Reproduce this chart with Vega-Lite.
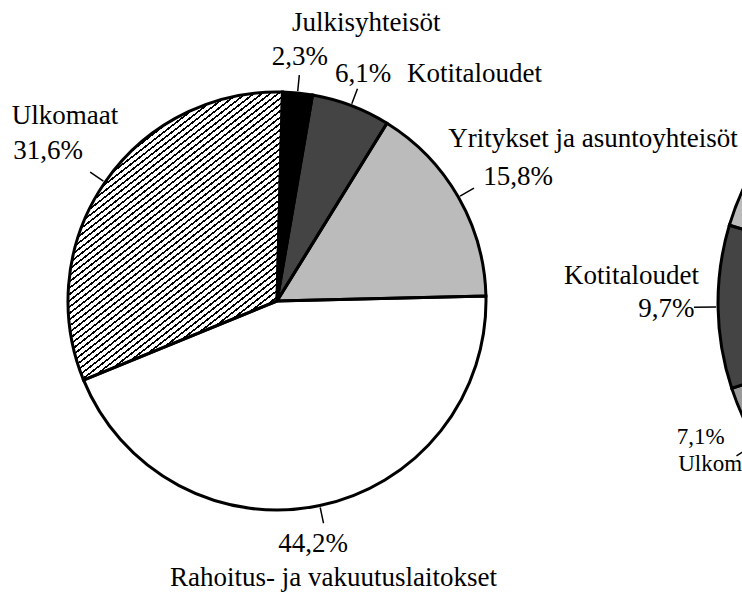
{
"$schema":"https://vega.github.io/schema/vega-lite/v6.json",
"width":742,"height":595,"autosize":{"type":"none"},"padding":0,"background":"white",
"config":{"view":{"stroke":null},"text":{"font":"Liberation Serif","fontSize":27,"color":"#000"}},
"datasets":{
"p1":[
{"pie":"A","ord":1,"label":"Julkisyhteisöt","value":2.3,"pct":"2,3%"},
{"pie":"A","ord":2,"label":"Kotitaloudet","value":6.1,"pct":"6,1%"},
{"pie":"A","ord":3,"label":"Yritykset ja asuntoyhteisöt","value":15.8,"pct":"15,8%"},
{"pie":"A","ord":4,"label":"Rahoitus- ja vakuutuslaitokset","value":44.2,"pct":"44,2%"},
{"pie":"A","ord":5,"label":"Ulkomaat","value":31.6,"pct":"31,6%"}],
"p2":[
{"pie":"B","ord":1,"label":"Julkisyhteisöt","value":7.8,"pct":""},
{"pie":"B","ord":2,"label":"Rahoitus- ja vakuutuslaitokset","value":54.6,"pct":""},
{"pie":"B","ord":3,"label":"Ulkomaat","value":7.1,"pct":"7,1%"},
{"pie":"B","ord":4,"label":"Kotitaloudet","value":9.7,"pct":"9,7%"},
{"pie":"B","ord":5,"label":"Yritykset ja asuntoyhteisöt","value":20.8,"pct":""}]
},
"encoding":{
"x":{"field":"pie","type":"nominal","scale":{"type":"point","domain":["A","B"],"range":[277,990],"padding":0},"axis":null},
"y":{"field":"pie","type":"nominal","scale":{"type":"point","domain":["A","B"],"range":[301,303],"padding":0},"axis":null},
"theta":{"field":"value","type":"quantitative","stack":true,"scale":{"domain":[0,100],"range":[0.0262,6.3094]}},
"order":{"field":"ord","type":"quantitative"}
},
"layer":[
{"data":{"name":"p1"},"mark":{"type":"arc","outerRadius":209},
 "encoding":{"fill":{"field":"label","type":"nominal","legend":null,"scale":{"domain":["Julkisyhteisöt","Kotitaloudet","Yritykset ja asuntoyhteisöt","Rahoitus- ja vakuutuslaitokset","Ulkomaat"],"range":["#000000","#444444","#bbbbbb","#ffffff","#9a9a9a"]}}}},
{"data":{"name":"p1"},"mark":{"type":"arc","outerRadius":209,"fill":{"gradient":"linear","x1":0,"y1":0,"x2":0.6863,"y2":1.1821,"stops":[
{"offset":0,"color":"#000"},{"offset":0.0046,"color":"#000"},{"offset":0.0046,"color":"#fff"},{"offset":0.0139,"color":"#fff"},
{"offset":0.0139,"color":"#000"},{"offset":0.0185,"color":"#000"},{"offset":0.0185,"color":"#fff"},{"offset":0.0278,"color":"#fff"},
{"offset":0.0278,"color":"#000"},{"offset":0.0324,"color":"#000"},{"offset":0.0324,"color":"#fff"},{"offset":0.0417,"color":"#fff"},
{"offset":0.0417,"color":"#000"},{"offset":0.0463,"color":"#000"},{"offset":0.0463,"color":"#fff"},{"offset":0.0556,"color":"#fff"},
{"offset":0.0556,"color":"#000"},{"offset":0.0601,"color":"#000"},{"offset":0.0601,"color":"#fff"},{"offset":0.0694,"color":"#fff"},
{"offset":0.0694,"color":"#000"},{"offset":0.0740,"color":"#000"},{"offset":0.0740,"color":"#fff"},{"offset":0.0833,"color":"#fff"},
{"offset":0.0833,"color":"#000"},{"offset":0.0879,"color":"#000"},{"offset":0.0879,"color":"#fff"},{"offset":0.0972,"color":"#fff"},
{"offset":0.0972,"color":"#000"},{"offset":0.1018,"color":"#000"},{"offset":0.1018,"color":"#fff"},{"offset":0.1111,"color":"#fff"},
{"offset":0.1111,"color":"#000"},{"offset":0.1157,"color":"#000"},{"offset":0.1157,"color":"#fff"},{"offset":0.1250,"color":"#fff"},
{"offset":0.1250,"color":"#000"},{"offset":0.1296,"color":"#000"},{"offset":0.1296,"color":"#fff"},{"offset":0.1389,"color":"#fff"},
{"offset":0.1389,"color":"#000"},{"offset":0.1435,"color":"#000"},{"offset":0.1435,"color":"#fff"},{"offset":0.1528,"color":"#fff"},
{"offset":0.1528,"color":"#000"},{"offset":0.1574,"color":"#000"},{"offset":0.1574,"color":"#fff"},{"offset":0.1667,"color":"#fff"},
{"offset":0.1667,"color":"#000"},{"offset":0.1713,"color":"#000"},{"offset":0.1713,"color":"#fff"},{"offset":0.1806,"color":"#fff"},
{"offset":0.1806,"color":"#000"},{"offset":0.1852,"color":"#000"},{"offset":0.1852,"color":"#fff"},{"offset":0.1944,"color":"#fff"},
{"offset":0.1944,"color":"#000"},{"offset":0.1990,"color":"#000"},{"offset":0.1990,"color":"#fff"},{"offset":0.2083,"color":"#fff"},
{"offset":0.2083,"color":"#000"},{"offset":0.2129,"color":"#000"},{"offset":0.2129,"color":"#fff"},{"offset":0.2222,"color":"#fff"},
{"offset":0.2222,"color":"#000"},{"offset":0.2268,"color":"#000"},{"offset":0.2268,"color":"#fff"},{"offset":0.2361,"color":"#fff"},
{"offset":0.2361,"color":"#000"},{"offset":0.2407,"color":"#000"},{"offset":0.2407,"color":"#fff"},{"offset":0.2500,"color":"#fff"},
{"offset":0.2500,"color":"#000"},{"offset":0.2546,"color":"#000"},{"offset":0.2546,"color":"#fff"},{"offset":0.2639,"color":"#fff"},
{"offset":0.2639,"color":"#000"},{"offset":0.2685,"color":"#000"},{"offset":0.2685,"color":"#fff"},{"offset":0.2778,"color":"#fff"},
{"offset":0.2778,"color":"#000"},{"offset":0.2824,"color":"#000"},{"offset":0.2824,"color":"#fff"},{"offset":0.2917,"color":"#fff"},
{"offset":0.2917,"color":"#000"},{"offset":0.2963,"color":"#000"},{"offset":0.2963,"color":"#fff"},{"offset":0.3056,"color":"#fff"},
{"offset":0.3056,"color":"#000"},{"offset":0.3101,"color":"#000"},{"offset":0.3101,"color":"#fff"},{"offset":0.3194,"color":"#fff"},
{"offset":0.3194,"color":"#000"},{"offset":0.3240,"color":"#000"},{"offset":0.3240,"color":"#fff"},{"offset":0.3333,"color":"#fff"},
{"offset":0.3333,"color":"#000"},{"offset":0.3379,"color":"#000"},{"offset":0.3379,"color":"#fff"},{"offset":0.3472,"color":"#fff"},
{"offset":0.3472,"color":"#000"},{"offset":0.3518,"color":"#000"},{"offset":0.3518,"color":"#fff"},{"offset":0.3611,"color":"#fff"},
{"offset":0.3611,"color":"#000"},{"offset":0.3657,"color":"#000"},{"offset":0.3657,"color":"#fff"},{"offset":0.3750,"color":"#fff"},
{"offset":0.3750,"color":"#000"},{"offset":0.3796,"color":"#000"},{"offset":0.3796,"color":"#fff"},{"offset":0.3889,"color":"#fff"},
{"offset":0.3889,"color":"#000"},{"offset":0.3935,"color":"#000"},{"offset":0.3935,"color":"#fff"},{"offset":0.4028,"color":"#fff"},
{"offset":0.4028,"color":"#000"},{"offset":0.4074,"color":"#000"},{"offset":0.4074,"color":"#fff"},{"offset":0.4167,"color":"#fff"},
{"offset":0.4167,"color":"#000"},{"offset":0.4213,"color":"#000"},{"offset":0.4213,"color":"#fff"},{"offset":0.4306,"color":"#fff"},
{"offset":0.4306,"color":"#000"},{"offset":0.4352,"color":"#000"},{"offset":0.4352,"color":"#fff"},{"offset":0.4444,"color":"#fff"},
{"offset":0.4444,"color":"#000"},{"offset":0.4490,"color":"#000"},{"offset":0.4490,"color":"#fff"},{"offset":0.4583,"color":"#fff"},
{"offset":0.4583,"color":"#000"},{"offset":0.4629,"color":"#000"},{"offset":0.4629,"color":"#fff"},{"offset":0.4722,"color":"#fff"},
{"offset":0.4722,"color":"#000"},{"offset":0.4768,"color":"#000"},{"offset":0.4768,"color":"#fff"},{"offset":0.4861,"color":"#fff"},
{"offset":0.4861,"color":"#000"},{"offset":0.4907,"color":"#000"},{"offset":0.4907,"color":"#fff"},{"offset":0.5000,"color":"#fff"},
{"offset":0.5000,"color":"#000"},{"offset":0.5046,"color":"#000"},{"offset":0.5046,"color":"#fff"},{"offset":0.5139,"color":"#fff"},
{"offset":0.5139,"color":"#000"},{"offset":0.5185,"color":"#000"},{"offset":0.5185,"color":"#fff"},{"offset":0.5278,"color":"#fff"},
{"offset":0.5278,"color":"#000"},{"offset":0.5324,"color":"#000"},{"offset":0.5324,"color":"#fff"},{"offset":0.5417,"color":"#fff"},
{"offset":0.5417,"color":"#000"},{"offset":0.5463,"color":"#000"},{"offset":0.5463,"color":"#fff"},{"offset":0.5556,"color":"#fff"},
{"offset":0.5556,"color":"#000"},{"offset":0.5601,"color":"#000"},{"offset":0.5601,"color":"#fff"},{"offset":0.5694,"color":"#fff"},
{"offset":0.5694,"color":"#000"},{"offset":0.5740,"color":"#000"},{"offset":0.5740,"color":"#fff"},{"offset":0.5833,"color":"#fff"},
{"offset":0.5833,"color":"#000"},{"offset":0.5879,"color":"#000"},{"offset":0.5879,"color":"#fff"},{"offset":0.5972,"color":"#fff"},
{"offset":0.5972,"color":"#000"},{"offset":0.6018,"color":"#000"},{"offset":0.6018,"color":"#fff"},{"offset":0.6111,"color":"#fff"},
{"offset":0.6111,"color":"#000"},{"offset":0.6157,"color":"#000"},{"offset":0.6157,"color":"#fff"},{"offset":0.6250,"color":"#fff"},
{"offset":0.6250,"color":"#000"},{"offset":0.6296,"color":"#000"},{"offset":0.6296,"color":"#fff"},{"offset":0.6389,"color":"#fff"},
{"offset":0.6389,"color":"#000"},{"offset":0.6435,"color":"#000"},{"offset":0.6435,"color":"#fff"},{"offset":0.6528,"color":"#fff"},
{"offset":0.6528,"color":"#000"},{"offset":0.6574,"color":"#000"},{"offset":0.6574,"color":"#fff"},{"offset":0.6667,"color":"#fff"},
{"offset":0.6667,"color":"#000"},{"offset":0.6713,"color":"#000"},{"offset":0.6713,"color":"#fff"},{"offset":0.6806,"color":"#fff"},
{"offset":0.6806,"color":"#000"},{"offset":0.6852,"color":"#000"},{"offset":0.6852,"color":"#fff"},{"offset":0.6944,"color":"#fff"},
{"offset":0.6944,"color":"#000"},{"offset":0.6990,"color":"#000"},{"offset":0.6990,"color":"#fff"},{"offset":0.7083,"color":"#fff"},
{"offset":0.7083,"color":"#000"},{"offset":0.7129,"color":"#000"},{"offset":0.7129,"color":"#fff"},{"offset":0.7222,"color":"#fff"},
{"offset":0.7222,"color":"#000"},{"offset":0.7268,"color":"#000"},{"offset":0.7268,"color":"#fff"},{"offset":0.7361,"color":"#fff"},
{"offset":0.7361,"color":"#000"},{"offset":0.7407,"color":"#000"},{"offset":0.7407,"color":"#fff"},{"offset":0.7500,"color":"#fff"},
{"offset":0.7500,"color":"#000"},{"offset":0.7546,"color":"#000"},{"offset":0.7546,"color":"#fff"},{"offset":0.7639,"color":"#fff"},
{"offset":0.7639,"color":"#000"},{"offset":0.7685,"color":"#000"},{"offset":0.7685,"color":"#fff"},{"offset":0.7778,"color":"#fff"},
{"offset":0.7778,"color":"#000"},{"offset":0.7824,"color":"#000"},{"offset":0.7824,"color":"#fff"},{"offset":0.7917,"color":"#fff"},
{"offset":0.7917,"color":"#000"},{"offset":0.7963,"color":"#000"},{"offset":0.7963,"color":"#fff"},{"offset":0.8056,"color":"#fff"},
{"offset":0.8056,"color":"#000"},{"offset":0.8101,"color":"#000"},{"offset":0.8101,"color":"#fff"},{"offset":0.8194,"color":"#fff"},
{"offset":0.8194,"color":"#000"},{"offset":0.8240,"color":"#000"},{"offset":0.8240,"color":"#fff"},{"offset":0.8333,"color":"#fff"},
{"offset":0.8333,"color":"#000"},{"offset":0.8379,"color":"#000"},{"offset":0.8379,"color":"#fff"},{"offset":0.8472,"color":"#fff"},
{"offset":0.8472,"color":"#000"},{"offset":0.8518,"color":"#000"},{"offset":0.8518,"color":"#fff"},{"offset":0.8611,"color":"#fff"},
{"offset":0.8611,"color":"#000"},{"offset":0.8657,"color":"#000"},{"offset":0.8657,"color":"#fff"},{"offset":0.8750,"color":"#fff"},
{"offset":0.8750,"color":"#000"},{"offset":0.8796,"color":"#000"},{"offset":0.8796,"color":"#fff"},{"offset":0.8889,"color":"#fff"},
{"offset":0.8889,"color":"#000"},{"offset":0.8935,"color":"#000"},{"offset":0.8935,"color":"#fff"},{"offset":0.9028,"color":"#fff"},
{"offset":0.9028,"color":"#000"},{"offset":0.9074,"color":"#000"},{"offset":0.9074,"color":"#fff"},{"offset":0.9167,"color":"#fff"},
{"offset":0.9167,"color":"#000"},{"offset":0.9213,"color":"#000"},{"offset":0.9213,"color":"#fff"},{"offset":0.9306,"color":"#fff"},
{"offset":0.9306,"color":"#000"},{"offset":0.9352,"color":"#000"},{"offset":0.9352,"color":"#fff"},{"offset":0.9444,"color":"#fff"},
{"offset":0.9444,"color":"#000"},{"offset":0.9490,"color":"#000"},{"offset":0.9490,"color":"#fff"},{"offset":0.9583,"color":"#fff"},
{"offset":0.9583,"color":"#000"},{"offset":0.9629,"color":"#000"},{"offset":0.9629,"color":"#fff"},{"offset":0.9722,"color":"#fff"},
{"offset":0.9722,"color":"#000"},{"offset":0.9768,"color":"#000"},{"offset":0.9768,"color":"#fff"},{"offset":0.9861,"color":"#fff"},
{"offset":0.9861,"color":"#000"},{"offset":0.9907,"color":"#000"},{"offset":0.9907,"color":"#fff"},{"offset":1,"color":"#fff"}
]}},
 "encoding":{"fillOpacity":{"condition":{"test":"datum.label==='Ulkomaat'","value":1},"value":0}}},
{"data":{"name":"p1"},"mark":{"type":"arc","outerRadius":209,"fill":"#ffffff","fillOpacity":0,"stroke":"#000","strokeWidth":3}},
{"data":{"name":"p1"},"mark":{"type":"arc","outerRadius":227,"innerRadius":211,"padAngle":3,"fill":"#ffffff","fillOpacity":0,"stroke":"#000","strokeWidth":1.5}},
{"data":{"name":"p2"},"mark":{"type":"arc","outerRadius":272},
 "encoding":{"fill":{"field":"label","type":"nominal","legend":null,"scale":{"domain":["Julkisyhteisöt","Kotitaloudet","Yritykset ja asuntoyhteisöt","Rahoitus- ja vakuutuslaitokset","Ulkomaat"],"range":["#000000","#444444","#bbbbbb","#ffffff","#9a9a9a"]}}}},
{"data":{"name":"p2"},"mark":{"type":"arc","outerRadius":272,"fill":"#ffffff","fillOpacity":0,"stroke":"#000","strokeWidth":3}},
{"data":{"name":"p2"},"mark":{"type":"arc","outerRadius":296,"innerRadius":274,"padAngle":3,"fill":"#ffffff","fillOpacity":0,"stroke":"#000","strokeWidth":1.5}},
{"data":{"name":"p1"},"mark":{"type":"text","radius":245,"align":"left","baseline":"alphabetic","dx":-9.1,"dy":-25.7},"encoding":{"text":{"condition":{"test":"datum.label==='Julkisyhteisöt'","field":"label"},"value":""}}},
{"data":{"name":"p1"},"mark":{"type":"text","radius":245,"align":"left","baseline":"alphabetic","dx":-29.4,"dy":7.8},"encoding":{"text":{"condition":{"test":"datum.label==='Julkisyhteisöt'","field":"pct"},"value":""}}},
{"data":{"name":"p1"},"mark":{"type":"text","radius":245,"align":"left","baseline":"alphabetic","dx":-28.9,"dy":10.1},"encoding":{"text":{"condition":{"test":"datum.label==='Kotitaloudet'","field":"pct"},"value":""}}},
{"data":{"name":"p1"},"mark":{"type":"text","radius":245,"align":"left","baseline":"alphabetic","dx":43.1,"dy":10.1},"encoding":{"text":{"condition":{"test":"datum.label==='Kotitaloudet'","field":"label"},"value":""}}},
{"data":{"name":"p1"},"mark":{"type":"text","radius":245,"align":"left","baseline":"alphabetic","dx":-41.3,"dy":-32.5},"encoding":{"text":{"condition":{"test":"datum.label==='Yritykset ja asuntoyhteisöt'","field":"label"},"value":""}}},
{"data":{"name":"p1"},"mark":{"type":"text","radius":245,"align":"left","baseline":"alphabetic","dx":-6.3,"dy":5.8},"encoding":{"text":{"condition":{"test":"datum.label==='Yritykset ja asuntoyhteisöt'","field":"pct"},"value":""}}},
{"data":{"name":"p1"},"mark":{"type":"text","radius":245,"align":"left","baseline":"alphabetic","dx":-48.9,"dy":11.2},"encoding":{"text":{"condition":{"test":"datum.label==='Rahoitus- ja vakuutuslaitokset'","field":"pct"},"value":""}}},
{"data":{"name":"p1"},"mark":{"type":"text","radius":245,"align":"left","baseline":"alphabetic","dx":-157.2,"dy":44.9},"encoding":{"text":{"condition":{"test":"datum.label==='Rahoitus- ja vakuutuslaitokset'","field":"label"},"value":""}}},
{"data":{"name":"p1"},"mark":{"type":"text","radius":245,"align":"left","baseline":"alphabetic","dx":-63.7,"dy":-37.5},"encoding":{"text":{"condition":{"test":"datum.label==='Ulkomaat'","field":"label"},"value":""}}},
{"data":{"name":"p1"},"mark":{"type":"text","radius":245,"align":"left","baseline":"alphabetic","dx":-62.1,"dy":-2.8},"encoding":{"text":{"condition":{"test":"datum.label==='Ulkomaat'","field":"pct"},"value":""}}},
{"data":{"name":"p2"},"mark":{"type":"text","radius":298,"align":"left","baseline":"alphabetic","dx":-128,"dy":-22.9},"encoding":{"text":{"condition":{"test":"datum.label==='Kotitaloudet'","field":"label"},"value":""}}},
{"data":{"name":"p2"},"mark":{"type":"text","radius":298,"align":"left","baseline":"alphabetic","dx":-53.7,"dy":9.5},"encoding":{"text":{"condition":{"test":"datum.label==='Kotitaloudet'","field":"pct"},"value":""}}},
{"data":{"name":"p2"},"mark":{"type":"text","radius":290,"align":"left","baseline":"alphabetic","fontSize":23,"dx":-65,"dy":-9},"encoding":{"text":{"condition":{"test":"datum.label==='Ulkomaat'","field":"pct"},"value":""}}},
{"data":{"name":"p2"},"mark":{"type":"text","radius":290,"align":"left","baseline":"alphabetic","fontSize":23,"dx":-63.4,"dy":18}, "encoding":{"text":{"condition":{"test":"datum.label==='Ulkomaat'","field":"label"},"value":""}}}
]
}
